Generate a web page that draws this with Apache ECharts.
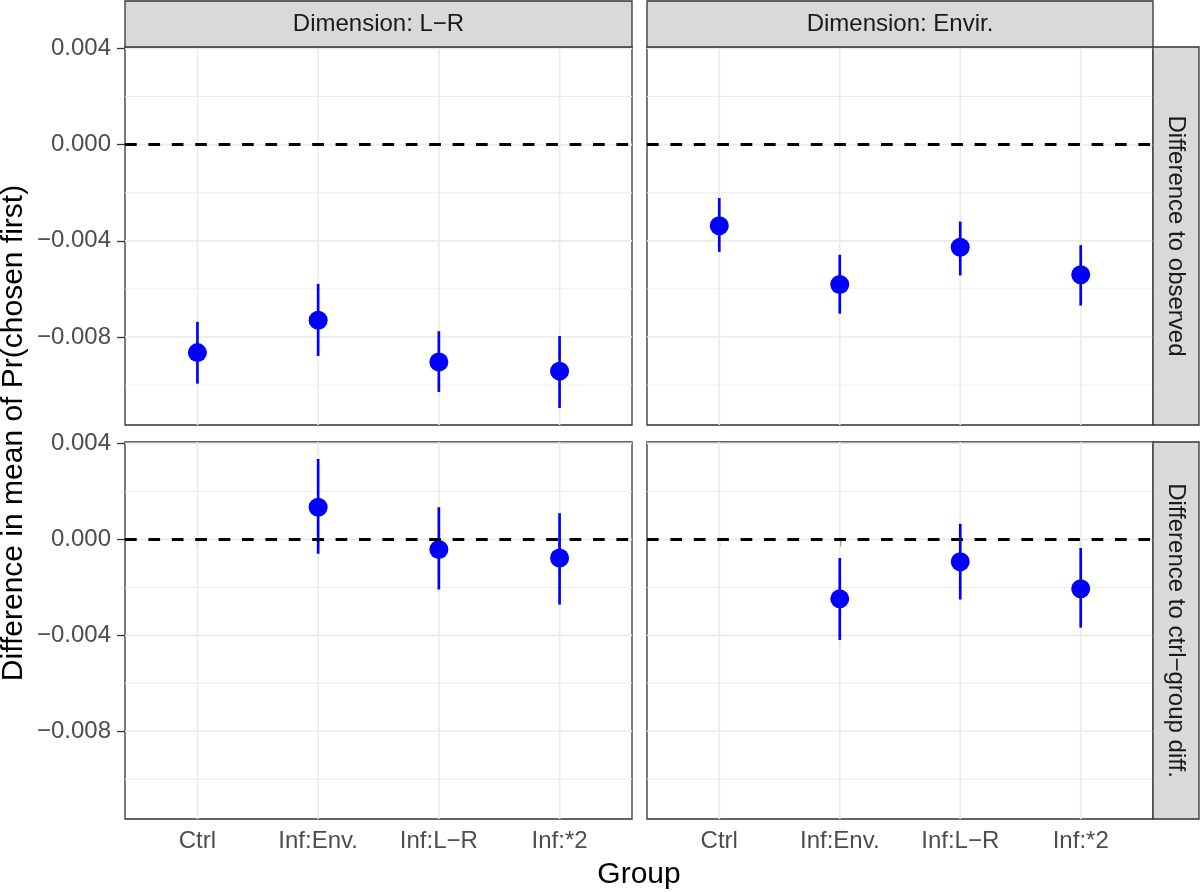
<!DOCTYPE html>
<html>
<head>
<meta charset="utf-8">
<script src="https://cdn.jsdelivr.net/npm/echarts@6/dist/echarts.min.js"></script>
<style>
html,body{margin:0;padding:0;background:#fff;}
#chart{width:1200px;height:892px;}
</style>
</head>
<body>
<div id="chart"></div>
<script>
// ---------- data ----------
const categories = ['Ctrl', 'Inf:Env.', 'Inf:L\u2212R', 'Inf:*2'];
const dimensions = ['Dimension: L\u2212R', 'Dimension: Envir.'];
const comparisons = ['Difference to observed', 'Difference to ctrl\u2212group diff.'];

// Difference to observed, Dimension L-R
const obsLR_est = [-0.00865, -0.00730, -0.00904, -0.00942];
const obsLR_lo  = [-0.00994, -0.00879, -0.01029, -0.01095];
const obsLR_hi  = [-0.00737, -0.00579, -0.00776, -0.00796];

// Difference to observed, Dimension Envir.
const obsEnv_est = [-0.00337, -0.00582, -0.00427, -0.00541];
const obsEnv_lo  = [-0.00446, -0.00703, -0.00544, -0.00669];
const obsEnv_hi  = [-0.00222, -0.00458, -0.00320, -0.00418];

// Difference to ctrl-group diff., Dimension L-R (no Ctrl estimate)
const ctrlLR_est = [null, 0.00134, -0.00042, -0.00078];
const ctrlLR_lo  = [null, -0.00060, -0.00209, -0.00272];
const ctrlLR_hi  = [null, 0.00335, 0.00134, 0.00109];

// Difference to ctrl-group diff., Dimension Envir. (no Ctrl estimate)
const ctrlEnv_est = [null, -0.00248, -0.00093, -0.00206];
const ctrlEnv_lo  = [null, -0.00420, -0.00251, -0.00368];
const ctrlEnv_hi  = [null, -0.00078, 0.00065, -0.00036];

const yTicks = [-0.008, -0.004, 0, 0.004];
const yMinorTicks = [-0.010, -0.006, -0.002, 0.002];
const yMin = -0.01166;
const yMax = 0.00406;
const refLine = 0;

// ---------- layout ----------
const FONT = '"Liberation Sans", Arial, Helvetica, sans-serif';
const panels = [
  {est: obsLR_est,  lo: obsLR_lo,  hi: obsLR_hi,  left: 125, top: 47,  width: 507, height: 378, showX: false, showY: true},
  {est: obsEnv_est, lo: obsEnv_lo, hi: obsEnv_hi, left: 647, top: 47,  width: 506, height: 378, showX: false, showY: false},
  {est: ctrlLR_est, lo: ctrlLR_lo, hi: ctrlLR_hi, left: 125, top: 442, width: 507, height: 377, showX: true,  showY: true},
  {est: ctrlEnv_est,lo: ctrlEnv_lo,hi: ctrlEnv_hi,left: 647, top: 442, width: 506, height: 377, showX: true,  showY: false}
];
const xPos = categories.map((c, k) => k + 1);
const GRID_COLOR = '#EBEBEB';
const BLUE = '#0000FF';

const grids = [], xAxes = [], yAxes = [], series = [];
panels.forEach((p, i) => {
  grids.push({left: p.left, top: p.top, width: p.width, height: p.height,
    show: true, backgroundColor: '#ffffff', borderColor: '#333333', borderWidth: 1.3, containLabel: false});
  xAxes.push({gridIndex: i, type: 'value', min: 0.4, max: 4.6,
    axisLine: {show: false}, splitLine: {show: false},
    axisTick: {show: p.showX, customValues: xPos, length: 7, lineStyle: {color: '#333333', width: 1.3}},
    axisLabel: {show: p.showX, customValues: xPos, margin: 10,
      formatter: v => categories[Math.round(v) - 1] || '',
      fontSize: 24, color: '#4D4D4D', fontFamily: FONT}});
  yAxes.push({gridIndex: i, type: 'value', min: yMin, max: yMax,
    axisLine: {show: false}, splitLine: {show: false},
    axisTick: {show: p.showY, customValues: yTicks, length: 8, lineStyle: {color: '#333333', width: 1.3}},
    axisLabel: {show: p.showY, customValues: yTicks, margin: 14,
      formatter: v => (v < 0 ? '\u2212' : '') + Math.abs(v).toFixed(3),
      fontSize: 24, color: '#4D4D4D', fontFamily: FONT}});

  const pts = [];
  const bars = [];
  categories.forEach((c, k) => {
    if (p.est[k] !== null) {
      pts.push([k + 1, p.est[k]]);
      bars.push([k + 1, p.lo[k], p.hi[k]]);
    }
  });

  // horizontal grid lines (minor thin, major thicker)
  const hLines = yMinorTicks.map(v => [v, 0.9]).concat(yTicks.map(v => [v, 1.7]));
  series.push({type: 'custom', xAxisIndex: i, yAxisIndex: i, z: 1, silent: true, animation: false,
    data: hLines, encode: {y: 0},
    renderItem: (params, api) => {
      const cs = params.coordSys;
      const y = api.coord([1, api.value(0)])[1];
      const w = api.value(1);
      return {type: 'rect', silent: true,
        shape: {x: cs.x, y: y - w / 2, width: cs.width, height: w},
        style: {fill: GRID_COLOR}};
    }});
  // vertical grid lines at categories
  series.push({type: 'custom', xAxisIndex: i, yAxisIndex: i, z: 1, silent: true, animation: false,
    data: xPos.map(v => [v]), encode: {x: 0},
    renderItem: (params, api) => {
      const cs = params.coordSys;
      const x = api.coord([api.value(0), 0])[0];
      return {type: 'rect', silent: true,
        shape: {x: x - 0.85, y: cs.y, width: 1.7, height: cs.height},
        style: {fill: GRID_COLOR}};
    }});
  // dashed zero line
  series.push({type: 'line', xAxisIndex: i, yAxisIndex: i, z: 2, silent: true,
    data: pts, showSymbol: false, lineStyle: {opacity: 0, width: 0}, animation: false,
    markLine: {silent: true, symbol: 'none', animation: false, label: {show: false},
      data: [{yAxis: refLine, lineStyle: {color: '#000000', width: 2.8, type: [11.7, 11.7], opacity: 1}}]}});
  // error bars
  series.push({type: 'custom', xAxisIndex: i, yAxisIndex: i, z: 3, animation: false, silent: true,
    data: bars, encode: {x: 0, y: [1, 2]},
    renderItem: (params, api) => {
      const a = api.coord([api.value(0), api.value(1)]);
      const b = api.coord([api.value(0), api.value(2)]);
      const w = 2.7;
      return {type: 'rect', silent: true,
        shape: {x: a[0] - w / 2, y: b[1], width: w, height: a[1] - b[1]},
        style: {fill: BLUE, opacity: 1}};
    }});
  // points
  series.push({type: 'scatter', xAxisIndex: i, yAxisIndex: i, z: 4, animation: false,
    data: pts, symbolSize: 19, itemStyle: {color: BLUE, opacity: 1}});
});

// strips and titles
const stripStyle = {fill: '#D9D9D9', stroke: '#333333', lineWidth: 1.3};
const stripText = (text, x, y, rot) => ({type: 'text', x: x, y: y, rotation: rot || 0, z: 100,
  style: {text: text, fill: '#1A1A1A', font: '24px ' + FONT, align: 'center', verticalAlign: 'middle',
    textAlign: 'center', textVerticalAlign: 'middle'}});
const graphic = [
  {type: 'rect', shape: {x: 125, y: 1, width: 507, height: 46}, style: stripStyle, z: 99},
  {type: 'rect', shape: {x: 647, y: 1, width: 506, height: 46}, style: stripStyle, z: 99},
  {type: 'rect', shape: {x: 1153, y: 47, width: 46, height: 378}, style: stripStyle, z: 99},
  {type: 'rect', shape: {x: 1153, y: 442, width: 46, height: 377}, style: stripStyle, z: 99},
  stripText(dimensions[0], 378.5, 24),
  stripText(dimensions[1], 900, 24),
  stripText(comparisons[0], 1176, 236, -Math.PI / 2),
  stripText(comparisons[1], 1176, 630.5, -Math.PI / 2),
  {type: 'text', x: 639, y: 875, z: 100,
    style: {text: 'Group', fill: '#000000', font: '30px ' + FONT, align: 'center', verticalAlign: 'middle',
      textAlign: 'center', textVerticalAlign: 'middle'}},
  {type: 'text', x: 14, y: 433, rotation: Math.PI / 2, z: 100,
    style: {text: 'Difference in mean of Pr(chosen first)', fill: '#000000', font: '30px ' + FONT,
      align: 'center', verticalAlign: 'middle', textAlign: 'center', textVerticalAlign: 'middle'}}
];

const chart = echarts.init(document.getElementById('chart'), null, {renderer: 'canvas'});
chart.setOption({
  animation: false,
  backgroundColor: '#ffffff',
  textStyle: {fontFamily: FONT},
  grid: grids, xAxis: xAxes, yAxis: yAxes, series: series, graphic: graphic
});
</script>
</body>
</html>
